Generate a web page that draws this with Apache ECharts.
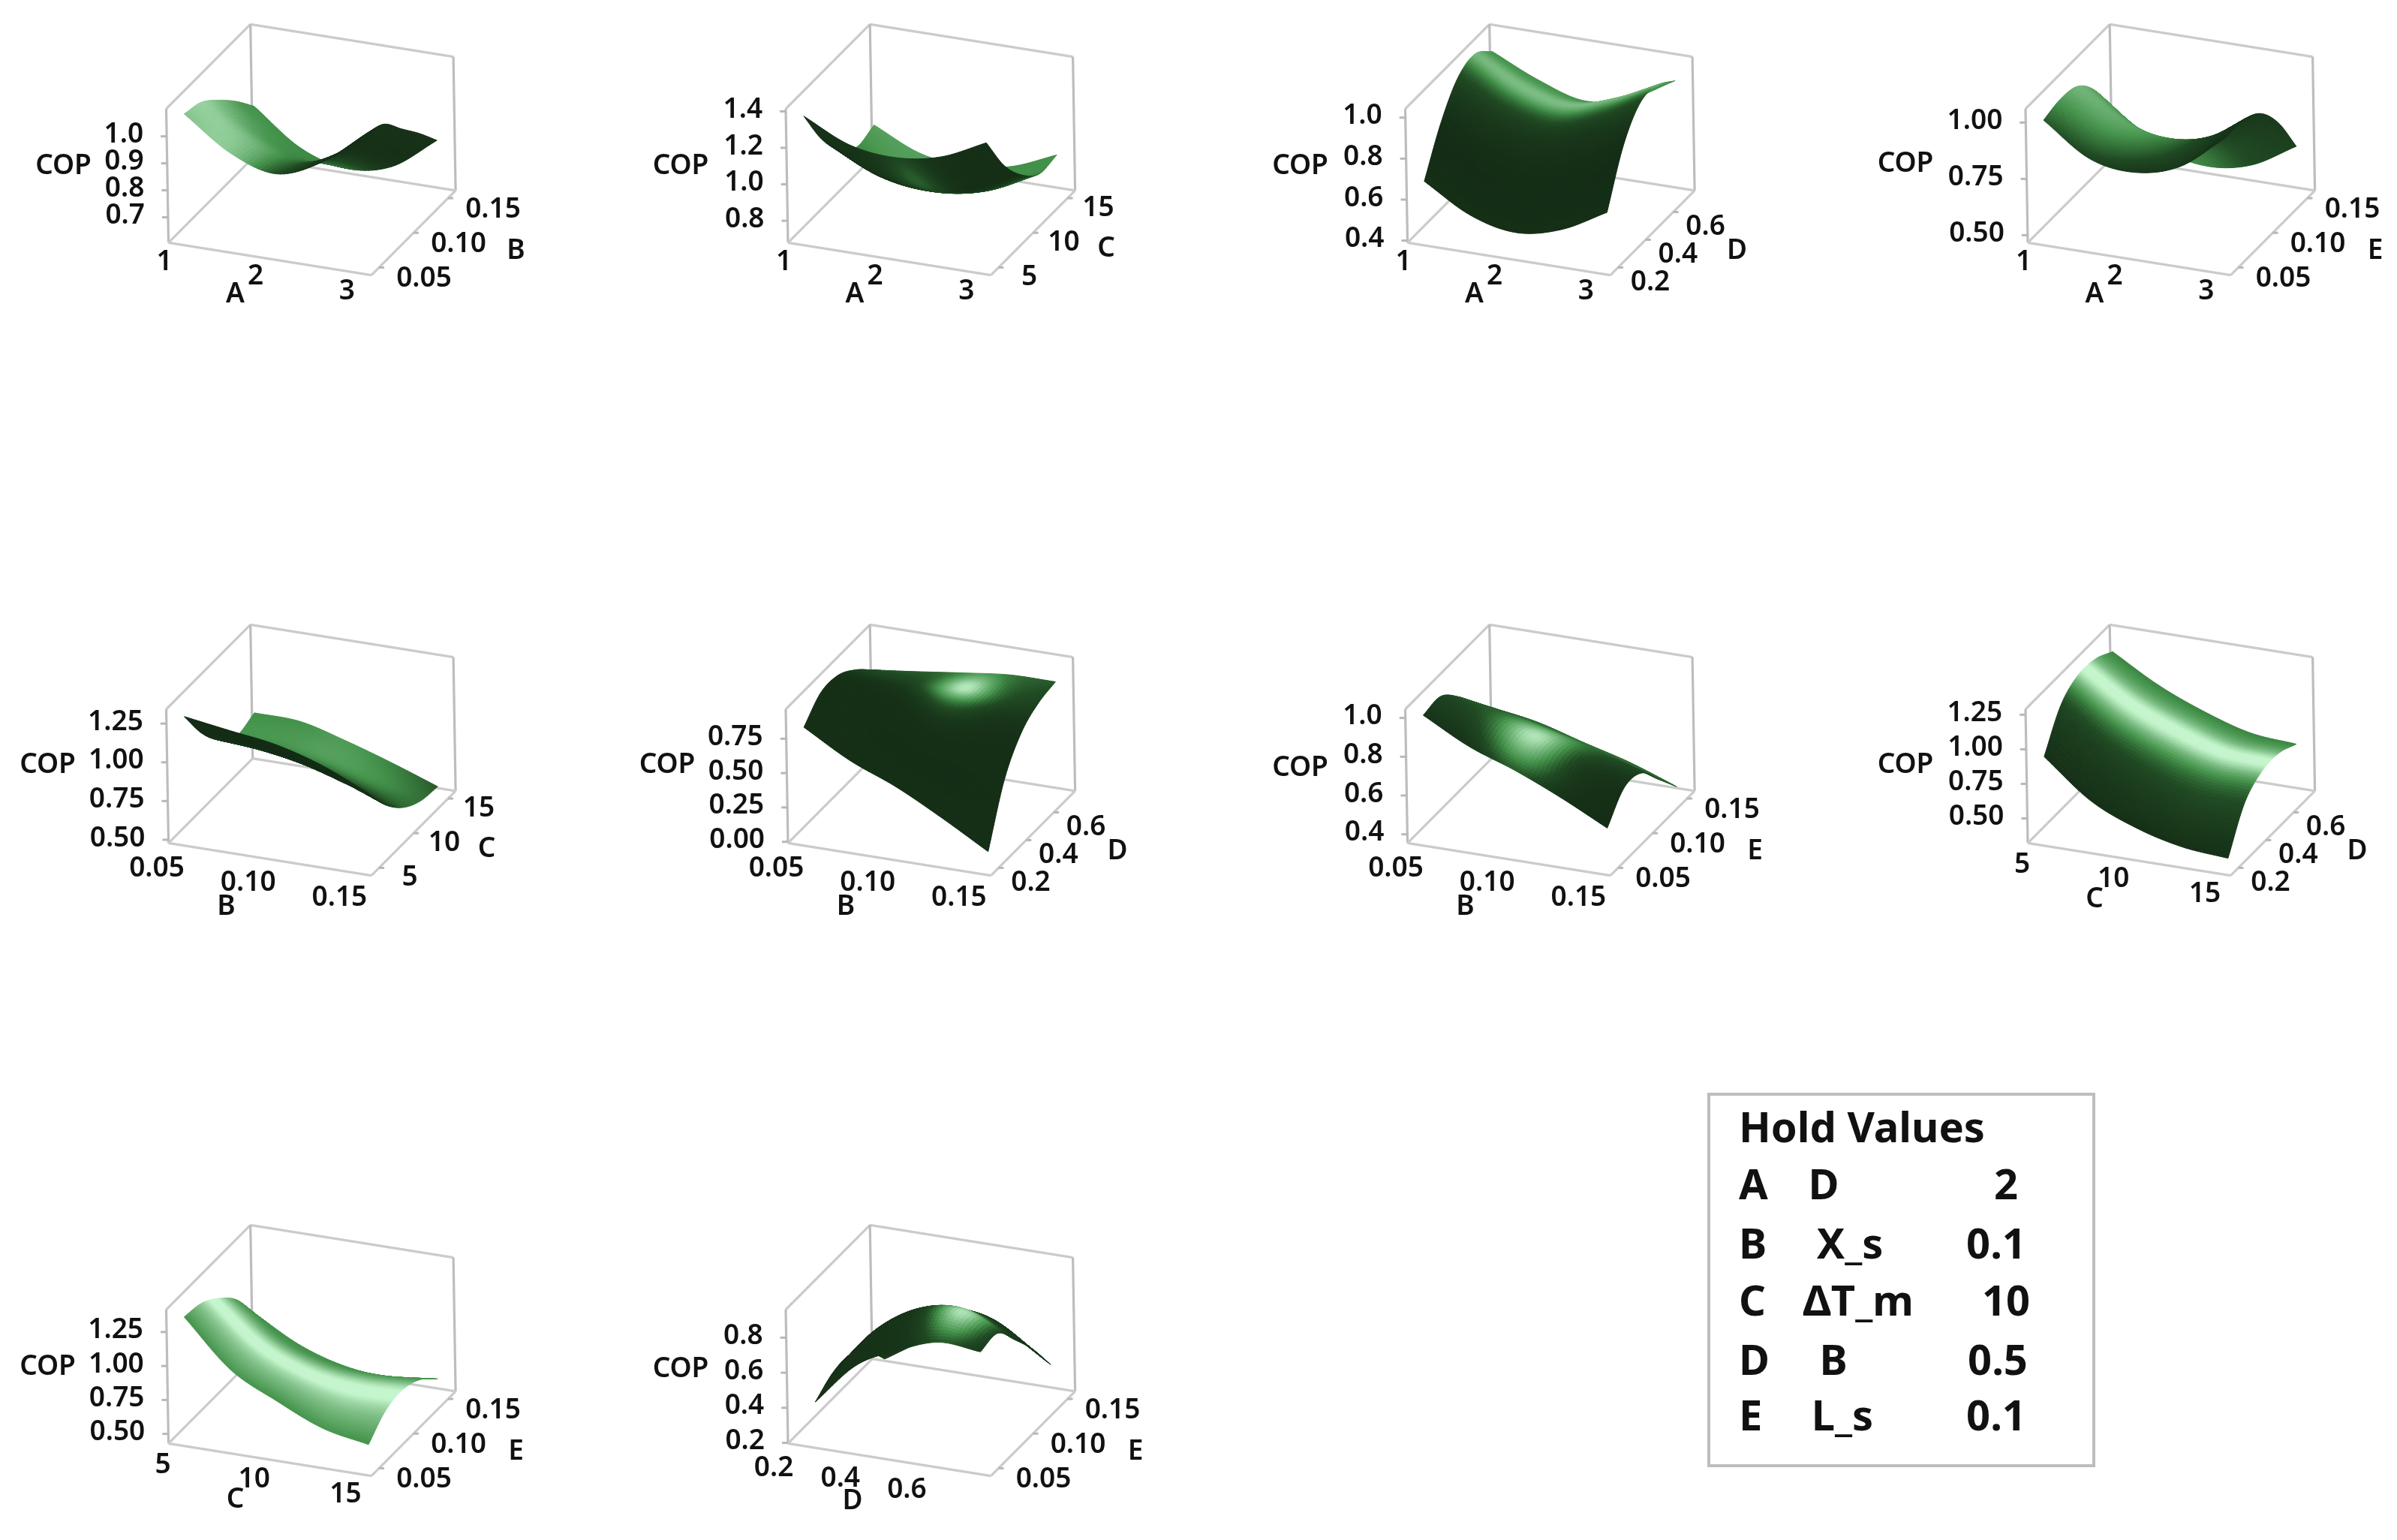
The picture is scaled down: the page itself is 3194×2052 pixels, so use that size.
<!DOCTYPE html>
<html><head><meta charset="utf-8">
<style>html,body{margin:0;padding:0;background:#fff}#c{width:3194px;height:2052px}</style>
<script src="https://cdn.jsdelivr.net/npm/echarts@6/dist/echarts.min.js"></script>
</head><body><div id="c"></div>
<script>
// ---- factor grids and tick labels
const GRID_A=[1,1.5,2,2.5,3], GRID_B=[0.05,0.075,0.1,0.125,0.15], GRID_C=[5,7.5,10,12.5,15],
      GRID_D=[0.2,0.325,0.45,0.575,0.7], GRID_E=[0.05,0.075,0.1,0.125,0.15];
const TICKS_A=[1,2,3], TICKS_B=[0.05,0.10,0.15], TICKS_C=[5,10,15], TICKS_D=[0.2,0.4,0.6], TICKS_E=[0.05,0.10,0.15];
// ---- COP values; rows run along the second factor, columns along the first
const COP_AB=[[1.061,.943,.893,.963,1.097],[1.040,.923,.869,.933,1.067],[.983,.864,.809,.869,.985],[.914,.785,.735,.780,.904],[.832,.705,.656,.690,.814]];
const COP_AC=[[1.341,1.223,1.194,1.238,1.355],[1.120,1.003,.974,1.018,1.135],[.966,.849,.819,.864,.988],[.886,.768,.739,.783,.900],[.912,.797,.768,.805,.908]];
const COP_AD=[[.660,.530,.481,.532,.651],[.860,.736,.684,.749,.893],[.994,.867,.814,.886,1.017],[1.027,.899,.847,.912,1.017],[.955,.852,.786,.831,.955]];
const COP_AE=[[.984,.845,.817,.877,1.037],[1.002,.859,.823,.895,1.037],[.981,.847,.812,.859,.989],[.883,.740,.693,.734,.871],[.716,.586,.538,.574,.690]];
const COP_BC=[[1.257,1.213,1.170,1.084,.954],[1.036,1.015,.963,.876,.764],[.882,.859,.807,.721,.635],[.799,.790,.730,.643,.565],[.833,.825,.747,.652,.546]];
const COP_BD=[[.790,.601,.463,.289,.098],[.916,.809,.731,.634,.497],[.916,.868,.838,.790,.709],[.829,.809,.819,.819,.799],[.702,.743,.787,.826,.829]];
const COP_BE=[[.983,.859,.773,.670,.552],[.990,.907,.831,.755,.670],[.900,.852,.790,.728,.657],[.776,.741,.679,.610,.534],[.663,.624,.557,.493,.408]];
const COP_CD=[[.903,.639,.493,.409,.380],[1.150,.903,.758,.670,.655],[1.240,1.019,.874,.777,.756],[1.232,1.029,.893,.787,.765],[1.161,.971,.832,.732,.704]];
const COP_CE=[[1.317,.982,.806,.659,.593],[1.290,.987,.824,.726,.714],[1.198,.923,.785,.735,.742],[1.060,.814,.696,.666,.688],[.834,.651,.548,.522,.566]];
const COP_DE=[[.408,.655,.777,.863,.846],[.472,.746,.899,.945,.853],[.479,.685,.815,.838,.716],[.403,.571,.678,.701,.563],[.258,.403,.502,.510,.378]];
const TICKS_COP=[[0.7,0.8,0.9,1.0],[0.8,1.0,1.2,1.4],[0.4,0.6,0.8,1.0],[0.50,0.75,1.00],[0.50,0.75,1.00,1.25],[0,0.25,0.50,0.75],[0.4,0.6,0.8,1.0],[0.50,0.75,1.00,1.25],[0.50,0.75,1.00,1.25],[0.2,0.4,0.6,0.8]];
const COP_RANGE=[[.606,1.102],[.68,1.414],[.39,1.043],[.467,1.061],[.479,1.343],[-.009,.965],[.355,1.045],[.322,1.29],[.43,1.415],[.197,.96]];
const HOLD_FACTORS=['A','B','C','D','E'], HOLD_NAMES=['D','X_s','ΔT_m','B','L_s'], HOLD_VALUES=['2','0.1','10','0.5','0.1'];

// ---- styling
const FONT='"Noto Sans","Open Sans",sans-serif';
const RAMP=[[0,[17,37,18]],[.25,[32,74,35]],[.5,[67,146,74]],[.75,[125,190,133]],[1,[196,245,204]]];
const AXES={
 A:{name:'A',grid:GRID_A,ticks:TICKS_A,dec:0,uOff:[-19,24],vOff:[60,15],uName:[89,69],vName:[463,11]},
 B:{name:'B',grid:GRID_B,ticks:TICKS_B,dec:2,uOff:[-29,32],vOff:[60,15],uName:[77,85],vName:[463,11]},
 C:{name:'C',grid:GRID_C,ticks:TICKS_C,dec:0,uOff:[-21,27],vOff:[41,13],uName:[89,75],vName:[424,8]},
 D:{name:'D',grid:GRID_D,ticks:TICKS_D,dec:1,uOff:[-46,29],vOff:[43,20],uName:[86,77],vName:[439,11]},
 E:{name:'E',grid:GRID_E,ticks:TICKS_E,dec:2,uOff:[-20,24],vOff:[60,15],uName:[89,69],vName:[463,11]}
};
const VX=[270.4,43.3],VY=[112.2,-112.7],VZ=[-3,-178.3];
const COLS=[224.5,1050,1875.5,2702],ROWS=[323.3,1123.3,1923.3];
const PANELS=[
 {a:'A',b:'B',cop:COP_AB,c:0,r:0,copX:-140,copY:-102,
  shade:[[.78,.78,.25,.10,.08],[.84,.74,.35,.10,.08],[.72,.55,.40,.10,.08],[.55,.50,.42,.10,.08],[.50,.48,.40,.10,.08]],glow:[]},
 {a:'A',b:'C',cop:COP_AC,c:1,r:0,copX:-143,copY:-102,
  shade:[[.08,.10,.13,.08,.06],[.08,.10,.16,.08,.06],[.10,.10,.14,.10,.10],[.45,.50,.45,.45,.45],[.58,.58,.55,.50,.50]],
  glow:[{u:.52,v:.30,ru:.09,rv:.28,amt:.16}]},
 {a:'A',b:'D',cop:COP_AD,c:2,r:0,copX:-143,copY:-102,
  shade:[[.06,.06,.06,.06,.06],[.06,.06,.06,.06,.06],[.22,.20,.18,.18,.22],[.55,.58,.58,.56,.50],[.50,.50,.50,.50,.50]],
  glow:[{v:.70,rv:.09,amt:.16}]},
 {a:'A',b:'E',cop:COP_AE,c:3,r:0,copX:-163,copY:-105,
  shade:[[.30,.20,.12,.12,.08],[.55,.45,.30,.20,.10],[.70,.62,.45,.20,.12],[.55,.50,.45,.25,.14],[.45,.45,.45,.25,.18]],glow:[]},
 {a:'B',b:'C',cop:COP_BC,c:0,r:1,copX:-161,copY:-104,
  shade:[[.05,.05,.05,.05,.08],[.06,.06,.06,.08,.15],[.20,.20,.20,.25,.35],[.50,.52,.55,.50,.38],[.50,.50,.55,.45,.30]],glow:[]},
 {a:'B',b:'D',cop:COP_BD,c:1,r:1,copX:-161,copY:-104,
  shade:[[.06,.06,.06,.06,.06],[.06,.06,.06,.06,.06],[.08,.08,.10,.10,.08],[.20,.20,.26,.26,.20],[.30,.32,.36,.36,.30]],
  glow:[{u:.59,v:.70,ru:.13,rv:.18,amt:.68}]},
 {a:'B',b:'E',cop:COP_BE,c:2,r:1,copX:-143,copY:-100,
  shade:[[.10,.08,.08,.06,.05],[.20,.20,.18,.12,.08],[.30,.30,.30,.28,.20],[.32,.35,.38,.35,.30],[.34,.36,.38,.38,.35]],
  glow:[{u:.49,v:.33,ru:.16,rv:.22,amt:.72}]},
 {a:'C',b:'D',cop:COP_CD,c:3,r:1,copX:-163,copY:-104,
  shade:[[.07,.07,.07,.07,.07],[.22,.22,.24,.26,.26],[.58,.58,.58,.58,.58],[.58,.58,.58,.58,.58],[.45,.45,.45,.45,.45]],
  glow:[{v:.58,rv:.12,amt:.42}]},
 {a:'C',b:'E',cop:COP_CE,c:0,r:2,copX:-161,copY:-102,
  shade:[[.50,.52,.50,.52,.50],[.80,.80,.80,.80,.80],[.88,.88,.88,.88,.88],[.55,.55,.55,.55,.55],[.50,.50,.50,.50,.50]],
  glow:[{v:.42,rv:.10,amt:.15}]},
 {a:'D',b:'E',cop:COP_DE,c:1,r:2,copX:-143,copY:-99,uPad:[.10,.92],
  shade:[[.08,.08,.10,.12,.12],[.08,.10,.12,.15,.12],[.10,.10,.14,.14,.12],[.12,.12,.14,.14,.12],[.12,.12,.12,.12,.12]],
  glow:[{u:.745,v:.30,ru:.12,rv:.17,amt:.78}]}
];
const V_PAD=[.09,.91],U_PAD=[.05,.95];
const SUB=12, GL=20, GT=300, GW=460, GH=400;

function cr(p0,p1,p2,p3,t){return .5*((2*p1)+(-p0+p2)*t+(2*p0-5*p1+4*p2-p3)*t*t+(-p0+3*p1-3*p2+p3)*t*t*t);}
function at(a,i){const n=a.length;if(i<0)return 2*a[0]-a[1];if(i>=n)return 2*a[n-1]-a[n-2];return a[i];}
function sm1(a,s){const i=Math.min(Math.floor(s),a.length-2),t=s-i;return cr(at(a,i-1),at(a,i),at(a,i+1),at(a,i+2),t);}
function sm2(m,s,t){return sm1(m.map(r=>sm1(r,s)),t);}
function ramp(x){x=Math.max(0,Math.min(1,x));for(let i=1;i<RAMP.length;i++){if(x<=RAMP[i][0]){const f=(x-RAMP[i-1][0])/(RAMP[i][0]-RAMP[i-1][0]),a=RAMP[i-1][1],b=RAMP[i][1];return 'rgb('+a.map((c,k)=>Math.round(c+(b[k]-c)*f)).join(',')+')';}}return 'rgb(196,245,204)';}
function P(u,v,w){return [GL+VX[0]*u+VY[0]*v+VZ[0]*w, GT+VX[1]*u+VY[1]*v+VZ[1]*w];}

const grids=[],xAxes=[],yAxes=[],series=[];
PANELS.forEach((p,idx)=>{
  const ox=COLS[p.c],oy=ROWS[p.r],A=AXES[p.a],B=AXES[p.b],zr=COP_RANGE[idx],zt=TICKS_COP[idx];
  const up=p.uPad||U_PAD,vp=V_PAD;
  const zw=z=>(z-zr[0])/(zr[1]-zr[0]);
  const gu=A.grid,gv=B.grid;
  const uOf=x=>up[0]+(up[1]-up[0])*(x-gu[0])/(gu[4]-gu[0]);
  const vOf=x=>vp[0]+(vp[1]-vp[0])*(x-gv[0])/(gv[4]-gv[0]);
  grids.push({left:ox-GL,top:oy-GT,width:GW,height:GH,show:false});
  xAxes.push({type:'value',gridIndex:idx,min:0,max:GW,show:false});
  yAxes.push({type:'value',gridIndex:idx,min:0,max:GH,inverse:true,show:false});
  // box
  const edges=[[0,1,1,1,1,1],[0,1,1,0,0,1],[0,0,1,0,0,0],[0,0,0,1,0,0],[1,0,0,1,1,0],[1,1,0,1,1,1],[0,1,1,0,1,0],[0,0,0,0,1,0],[0,1,0,1,1,0]];
  const stubs=[];
  zt.forEach(z=>stubs.push([P(0,0,zw(z)),[-8,0]]));
  B.ticks.forEach(b=>stubs.push([P(1,vOf(b),0),[7,0]]));
  series.push({type:'custom',coordinateSystem:'cartesian2d',xAxisIndex:idx,yAxisIndex:idx,silent:true,animation:false,clip:false,z:1,
    data:edges.map((e,i)=>[i]),
    renderItem:(par,api)=>{const e=edges[api.value(0)];const a=api.coord(P(e[0],e[1],e[2])),b=api.coord(P(e[3],e[4],e[5]));
      const vertical=e[0]===e[3]&&e[1]===e[4];
      return {type:'line',shape:{x1:a[0],y1:a[1],x2:b[0],y2:b[1]},style:{stroke:vertical?'#bdbdbd':'#cbcbcb',lineWidth:3.2}};}
  });
  series.push({type:'custom',coordinateSystem:'cartesian2d',xAxisIndex:idx,yAxisIndex:idx,silent:true,animation:false,clip:false,z:1,
    data:stubs.map((e,i)=>[i]),
    renderItem:(par,api)=>{const s=stubs[api.value(0)];const a=api.coord(s[0]);
      return {type:'line',shape:{x1:a[0],y1:a[1],x2:a[0]+s[1][0],y2:a[1]+s[1][1]},style:{stroke:'#b8b8b8',lineWidth:3}};}
  });
  // surface: drawn from the value table as a smooth sheet, back to front
  const N=(gu.length-1)*SUB,cells=[];
  const uv=(i,j)=>{const s=i/SUB,t=j/SUB;
    const x=sm1(gu,s),y=sm1(gv,t);
    return {u:uOf(x),v:vOf(y),w:zw(sm2(p.cop,s,t))};};
  for(let j=0;j<N;j++)for(let i=0;i<N;i++){
    const c=[uv(i,j),uv(i+1,j),uv(i+1,j+1),uv(i,j+1)];
    const m=uv(i+.5,j+.5);
    let sh=sm2(p.shade,(i+.5)/SUB,(j+.5)/SUB);
    p.glow.forEach(g=>{
      const du=g.u===undefined?0:(m.u-g.u)/g.ru,dv=(m.v-g.v)/g.rv;
      sh+=g.amt*Math.exp(-(du*du+dv*dv));
    });
    cells.push({pts:c.map(q=>P(q.u,q.v,q.w)),color:ramp(sh),f:.567*m.u-1.355*m.v+m.w});
  }
  cells.sort((a,b)=>a.f-b.f);
  series.push({type:'custom',coordinateSystem:'cartesian2d',xAxisIndex:idx,yAxisIndex:idx,silent:true,animation:false,clip:false,z:2,progressive:0,
    data:cells.map((c,i)=>[i]),
    renderItem:(par,api)=>{const c=cells[api.value(0)];
      return {type:'polygon',shape:{points:c.pts.map(q=>api.coord(q))},style:{fill:c.color,stroke:c.color,lineWidth:1}};}
  });
  // text
  const texts=[];
  const zDec=(zt[0]===0||zt.some(z=>Math.abs(z*10-Math.round(z*10))>1e-6))?2:(idx===3||idx===4||idx===7||idx===8||idx===5?2:1);
  zt.forEach(z=>{const q=P(0,0,zw(z));texts.push({p:q,dx:-31,dy:-2,t:z.toFixed(zDec),align:'right'});});
  A.ticks.forEach(x=>{const q=P(uOf(x),0,0);texts.push({p:q,dx:A.uOff[0],dy:A.uOff[1],t:x.toFixed(A.dec),align:'center'});});
  B.ticks.forEach(y=>{const q=P(1,vOf(y),0);texts.push({p:q,dx:B.vOff[0],dy:B.vOff[1],t:y.toFixed(B.dec),align:'center'});});
  const o=P(0,0,0);
  texts.push({p:o,dx:A.uName[0],dy:A.uName[1],t:A.name,align:'center'});
  texts.push({p:o,dx:B.vName[0],dy:B.vName[1],t:B.name,align:'center'});
  texts.push({p:o,dx:p.copX,dy:p.copY,t:'COP',align:'center'});
  series.push({type:'custom',coordinateSystem:'cartesian2d',xAxisIndex:idx,yAxisIndex:idx,silent:true,animation:false,clip:false,z:3,
    data:texts.map((e,i)=>[i]),
    renderItem:(par,api)=>{const s=texts[api.value(0)];const a=api.coord(s.p);
      return {type:'text',style:{text:s.t,x:a[0]+s.dx,y:a[1]+s.dy,fill:'#111',align:s.align,verticalAlign:'middle',font:'600 37px '+FONT}};}
  });
});

// hold-values box
const graphic=[{type:'rect',shape:{x:2277,y:1458,width:513,height:495},style:{fill:'#fff',stroke:'#bdbdbd',lineWidth:4},z:5},
 {type:'text',style:{text:'Hold Values',x:2317,y:1506,fill:'#111',verticalAlign:'middle',font:'700 56px '+FONT},z:6}];
const rowY=[1582,1661,1737,1816,1890],nameX=[2430,2465,2476,2443,2455],valX=[2673,2660,2673,2662,2660];
HOLD_FACTORS.forEach((f,i)=>{
  graphic.push({type:'text',style:{text:f,x:2317,y:rowY[i],fill:'#111',verticalAlign:'middle',font:'700 56px '+FONT},z:6});
  graphic.push({type:'text',style:{text:HOLD_NAMES[i],x:nameX[i],y:rowY[i],fill:'#111',align:'center',verticalAlign:'middle',font:'700 56px '+FONT},z:6});
  graphic.push({type:'text',style:{text:HOLD_VALUES[i],x:valX[i],y:rowY[i],fill:'#111',align:'center',verticalAlign:'middle',font:'700 56px '+FONT},z:6});
});

const chart=echarts.init(document.getElementById('c'),null,{renderer:'canvas',width:3194,height:2052});
chart.setOption({animation:false,backgroundColor:'#fff',grid:grids,xAxis:xAxes,yAxis:yAxes,series:series,graphic:graphic});
</script></body></html>
